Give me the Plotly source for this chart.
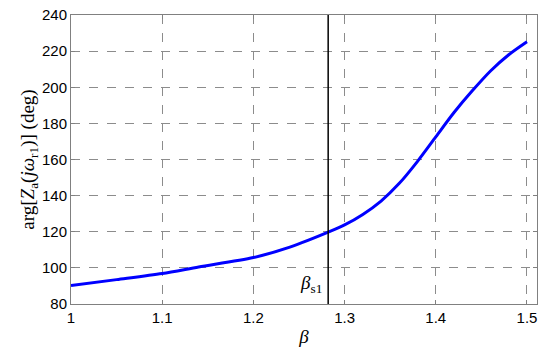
import plotly.graph_objects as go

# values
beta = [1.0, 1.05, 1.1, 1.14, 1.2, 1.24, 1.284, 1.3, 1.32, 1.34, 1.36,
        1.38, 1.4, 1.42, 1.44, 1.46, 1.48, 1.5]
phase_deg = [90.2, 93.5, 96.9, 100.5, 105.7, 111.5, 120.2, 123.8, 129.6,
             137.0, 146.8, 159.0, 172.5, 186.0, 198.0, 209.0, 218.0, 225.2]
beta_s1 = 1.282

x_ticks = [1, 1.1, 1.2, 1.3, 1.4, 1.5]
x_tick_labels = ["1", "1.1", "1.2", "1.3", "1.4", "1.5"]
y_ticks = [80, 100, 120, 140, 160, 180, 200, 220, 240]


def main():
    fig = go.Figure()

    fig.add_trace(
        go.Scatter(
            x=beta,
            y=phase_deg,
            mode="lines",
            line=dict(color="#0000ff", width=3, shape="spline", smoothing=0.8),
            showlegend=False,
        )
    )

    fig.add_vline(x=beta_s1, line_color="black", line_width=1.5)

    fig.add_annotation(
        x=beta_s1,
        y=0.02,
        xref="x",
        yref="paper",
        text="<i>β</i><sub>s1</sub>",
        showarrow=False,
        xanchor="right",
        yanchor="bottom",
        xshift=-4,
        font=dict(family="Liberation Serif", size=19, color="black"),
    )

    axis_common = dict(
        showline=True,
        linecolor="#808080",
        linewidth=1,
        mirror="ticks",
        ticks="inside",
        ticklen=4,
        tickcolor="#808080",
        showgrid=True,
        gridcolor="#8c8c8c",
        griddash="dash",
        gridwidth=1,
        zeroline=False,
        automargin=False,
        ticklabeloverflow="allow",
        tickfont=dict(family="Liberation Sans", size=15, color="black"),
    )

    fig.update_xaxes(
        range=[1, 1.511],
        tickvals=x_ticks,
        ticktext=x_tick_labels,
        title=dict(
            text="<i>β</i>",
            font=dict(family="Liberation Serif", size=19, color="black"),
            standoff=4,
        ),
        **axis_common,
    )
    fig.update_yaxes(
        range=[80, 240],
        tickvals=y_ticks,
        title=dict(
            text="arg[<i>Z</i><sub>a</sub>(<i>jω</i><sub>r1</sub>)] (deg)",
            font=dict(family="Liberation Serif", size=19, color="black"),
            standoff=2,
        ),
        **axis_common,
    )

    # page body has an 8px margin, so the figure is sized to fit the window
    fig.update_layout(
        width=542,
        height=347,
        margin=dict(l=63, r=13, t=7, b=51),
        plot_bgcolor="white",
        paper_bgcolor="white",
    )

    fig.write_html("out.html")


if __name__ == "__main__":
    main()
